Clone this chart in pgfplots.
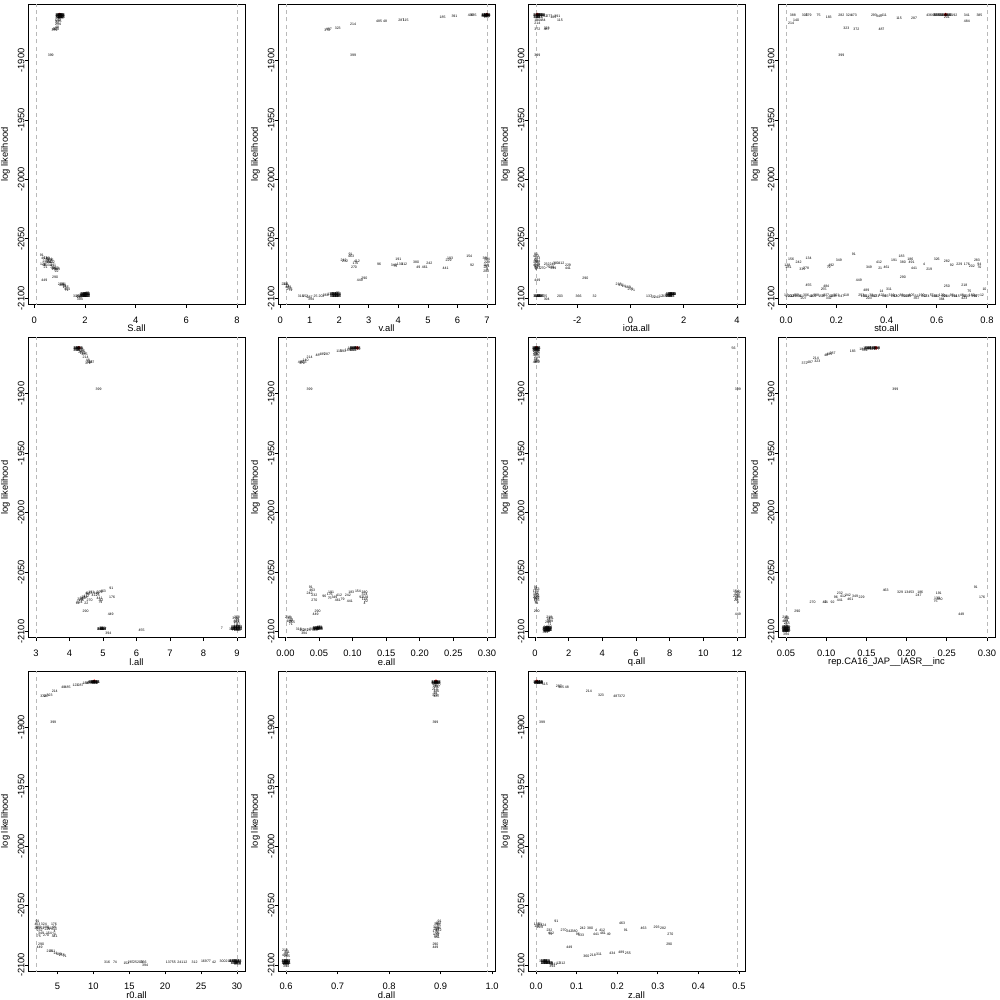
\documentclass[border=0pt]{standalone}
\usepackage{pgfplots}
\pgfplotsset{compat=1.18}
\usepackage{fontspec}
\setmainfont{Liberation Sans}
\newcommand{\tf}{\fontsize{8}{9.6}\selectfont}
\newcommand{\lf}{\fontsize{3}{3.6}\selectfont}
\newcommand{\blf}{\fontsize{3.3}{3.6}\selectfont\bfseries}
\pgfplotsset{
  panel/.style={
    scale only axis, width=65.1mm, height=90mm, anchor=north west,
    ymin=-2105.05, ymax=-1852.9,
    ytick={-2100,-2050,-2000,-1950,-1900},
    yticklabels={-2100,-2050,-2000,-1950,-1900},
    tick align=outside, major tick length=1mm, tick pos=left,
    tick style={black, line width=0.6pt},
    axis line style={black, line width=0.6pt},
    ticklabel style={font=\tf},
    yticklabel style={rotate=90, anchor=south, inner sep=0pt},
    xticklabel style={anchor=north, inner sep=0pt, yshift=-2.6mm},
    ylabel={log likelihood},
    ylabel style={font=\tf, at={([xshift=-6.75mm]axis description cs:0,0.5)}, anchor=center},
    xlabel style={font=\tf, at={(axis description cs:0.5,0)}, anchor=center, yshift=-7.2mm},
  },
  lab/.style={draw=none, mark=none, nodes near coords, point meta=explicit symbolic,
    every node near coord/.append style={font=\lf, inner sep=0pt, anchor=center, black}},
  blob/.style={draw=none, mark=none, nodes near coords, point meta=explicit symbolic,
    every node near coord/.append style={font=\blf, inner sep=0pt, anchor=center, black}},
  bnd/.style={gray!55, line width=0.5pt, dash pattern=on 1.2mm off 1mm, forget plot},
  best/.style={only marks, mark=*, mark size=0.45mm, color=red},
}
\begin{document}
\begin{tikzpicture}
\path[use as bounding box] (0,0) rectangle (300mm,-300mm);
% ---------------- S.all
\begin{axis}[panel, at={(8.4mm,-1.3mm)}, xmin=-0.247, xmax=8.317,
  xtick={0,2,4,6,8}, xticklabels={0,2,4,6,8}, xlabel={S.all}]
\addplot[bnd] coordinates {(0.07,-2200) (0.07,-1800)};
\addplot[bnd] coordinates {(8,-2200) (8,-1800)};
\addplot[best] coordinates {(1.0,-1861.5)};
\addplot[lab] coordinates {
(0.95,-1862)[184] (1.0,-1862)[306] (1.05,-1862)[458] (1.1,-1862.5)[62] (0.97,-1863)[277] (1.02,-1863.5)[115]
(1.07,-1863)[391] (0.98,-1864.5)[287] (1.04,-1865)[185] (0.93,-1866)[140] (0.96,-1867)[485] (0.92,-1868.5)[56]
(0.94,-1870)[214] (0.9,-1872)[48] (0.86,-1873.5)[323] (0.82,-1874)[487] (0.8,-1874.5)[372]
(0.65,-1896)[399]
(0.3,-2064)[91] (0.4,-2066)[463] (0.5,-2066)[183] (0.55,-2067)[61] (0.6,-2067)[324] (0.65,-2068)[196]
(0.45,-2068.5)[229] (0.55,-2069.5)[380] (0.62,-2070)[242] (0.7,-2070)[412] (0.35,-2071)[176] (0.4,-2072)[96]
(0.5,-2072)[133] (0.65,-2072.5)[4] (0.75,-2072)[391] (0.7,-2074)[74] (0.78,-2074.5)[441] (0.45,-2074)[21]
(0.85,-2075)[270] (0.9,-2076)[349] (0.8,-2076)[154] (0.88,-2077)[92]
(0.82,-2082)[290] (0.4,-2085)[449]
(1.05,-2088)[218] (1.15,-2088.5)[311] (1.1,-2089)[489] (1.2,-2090)[14] (1.25,-2091)[255] (1.3,-2092)[404] (1.28,-2093)[71]
(1.65,-2098)[316] (1.75,-2098.5)[152] (1.8,-2099)[287] (1.85,-2098)[25] (1.9,-2097.5)[203] (1.95,-2097)[366]
(2.0,-2097)[137] (2.05,-2096.5)[55] (2.08,-2097)[241] (2.0,-2098)[12] (2.05,-2098)[312] (1.95,-2098.5)[169]
(2.1,-2096)[77] (1.8,-2101)[394]
};
\addplot[blob] coordinates {
(0.97,-1862)[888] (1.03,-1862)[888] (1.08,-1862)[888] (0.97,-1863.5)[888] (1.03,-1863.5)[888] (1.08,-1863.5)[888]
(1.95,-2096.5)[888] (2.02,-2096.5)[888] (2.08,-2096.5)[888] (1.95,-2098)[888] (2.02,-2098)[888] (2.08,-2098)[888]
};
\end{axis}
% ---------------- v.all
\begin{axis}[panel, at={(83.4mm,-1.3mm)}, xmin=-0.072, xmax=7.272,
  xtick={0,1,2,3,4,5,6,7}, xticklabels={0,1,2,3,4,5,6,7}, xlabel={v.all}]
\addplot[bnd] coordinates {(0.2,-2200) (0.2,-1800)};
\addplot[bnd] coordinates {(7,-2200) (7,-1800)};
\addplot[best] coordinates {(7.0,-1861.5)};
\addplot[lab] coordinates {
(6.92,-1862)[184] (6.97,-1862)[306] (7.02,-1862)[458] (6.95,-1863)[62] (7.0,-1863.5)[277] (6.98,-1862.5)[115]
(6.55,-1862.5)[485] (6.45,-1862.5)[435] (5.9,-1863)[391] (5.5,-1864)[185] (4.1,-1866)[287] (4.25,-1866)[115]
(3.35,-1867)[485] (3.55,-1867)[48] (2.47,-1869.7)[214] (1.95,-1873)[323] (1.65,-1874)[487] (1.6,-1874.5)[372]
(2.47,-1896)[399]
(2.38,-2063)[91] (2.4,-2065)[463] (2.15,-2068)[242] (2.2,-2068.5)[232] (2.6,-2069)[412] (2.55,-2070.5)[176]
(2.5,-2074)[270] (3.35,-2071)[96] (3.85,-2072)[349] (3.9,-2073.5)[75] (4.0,-2067)[191] (4.05,-2071.5)[133]
(4.2,-2071)[412] (4.6,-2070)[380] (4.68,-2074)[49] (4.9,-2073.5)[461] (5.05,-2070.5)[242] (5.6,-2075)[441]
(5.7,-2068)[229] (5.75,-2066)[183] (6.4,-2065)[154] (6.5,-2072)[92] (6.95,-2066)[380] (7.0,-2067)[324]
(7.0,-2070)[229] (6.97,-2072)[118] (7.02,-2073)[61] (6.95,-2074)[22] (7.0,-2075.5)[4] (6.98,-2077)[282]
(2.7,-2085)[449] (2.85,-2083)[290]
(0.15,-2088)[218] (0.2,-2088.5)[311] (0.25,-2090)[14] (0.28,-2091)[489] (0.32,-2092)[255] (0.35,-2093)[71]
(0.7,-2098)[316] (0.85,-2098.5)[152] (1.0,-2099)[287] (1.05,-2101)[394] (1.2,-2098.5)[25] (1.4,-2098)[203]
(1.55,-2097.5)[366] (1.7,-2097)[137] (1.8,-2096.5)[55] (1.85,-2097)[241] (1.9,-2096.5)[12] (1.93,-2097.5)[312]
(1.88,-2098)[169] (1.95,-2096)[77]
};
\addplot[blob] coordinates {
(6.93,-1862)[888] (7.0,-1862)[888] (6.93,-1863.2)[888] (7.0,-1863.2)[888]
(1.8,-2096.5)[888] (1.88,-2096.5)[888] (1.95,-2096.5)[888] (1.8,-2098)[888] (1.88,-2098)[888] (1.95,-2098)[888]
};
\end{axis}
% ---------------- iota.all
\begin{axis}[panel, at={(158.4mm,-1.3mm)}, xmin=-3.852, xmax=4.302,
  xtick={-2,0,2,4}, xticklabels={-2,0,2,4}, xlabel={iota.all}]
\addplot[bnd] coordinates {(-3.55,-2200) (-3.55,-1800)};
\addplot[bnd] coordinates {(4,-2200) (4,-1800)};
\addplot[best] coordinates {(-3.5,-1861.5)};
\addplot[lab] coordinates {
(-3.55,-1862)[184] (-3.45,-1862)[306] (-3.35,-1862.5)[458] (-3.2,-1863)[62] (-3.05,-1863)[277] (-2.9,-1863.5)[185]
(-2.75,-1863)[391] (-2.65,-1866)[115] (-3.5,-1864)[287] (-3.5,-1866)[140] (-3.3,-1866.5)[484] (-3.5,-1869)[214]
(-3.5,-1873.5)[372] (-3.15,-1873)[323] (-3.15,-1874)[487]
(-3.5,-1896)[399]
(-3.55,-2063)[91] (-3.55,-2065)[463] (-3.5,-2066.5)[183] (-3.55,-2068)[61] (-3.5,-2069)[324] (-3.55,-2070)[196]
(-3.5,-2071)[229] (-3.55,-2072)[412] (-3.5,-2073)[176] (-3.55,-2074)[96] (-3.5,-2075)[133] (-3.55,-2076)[4]
(-3.3,-2075)[270] (-3.15,-2071)[232] (-2.95,-2073.5)[191] (-2.93,-2071)[242] (-2.8,-2070.5)[380] (-2.6,-2070.5)[412]
(-2.35,-2072)[229] (-2.35,-2075)[441] (-2.9,-2074.5)[349] (-3.1,-2074)[75]
(-3.5,-2085)[449] (-1.7,-2083)[290]
(-0.45,-2088.5)[218] (-0.35,-2089)[311] (-0.25,-2090)[14] (-0.1,-2091)[489] (0.0,-2092)[255] (0.1,-2093)[71]
(-3.55,-2098)[316] (-3.45,-2098)[152] (-3.35,-2098)[287] (-3.2,-2098.5)[25] (-3.15,-2101)[394] (-2.65,-2098)[203]
(-1.95,-2098)[366] (-1.35,-2098)[32]
(0.7,-2098.5)[137] (0.85,-2099)[55] (1.0,-2099)[241] (1.15,-2098.5)[12] (1.3,-2098)[312] (1.4,-2097.5)[169]
(1.48,-2097)[77] (1.55,-2096.5)[203] (1.6,-2096.5)[211] (1.52,-2097.5)[42] (1.58,-2097)[300]
};
\addplot[blob] coordinates {
(-3.52,-1862)[888] (-3.42,-1862)[888] (-3.32,-1862)[888] (-3.52,-1863.3)[888] (-3.42,-1863.3)[888]
(-3.5,-2098)[888] (-3.4,-2098)[888]
(1.45,-2096.5)[888] (1.53,-2096.5)[888] (1.6,-2096.5)[888] (1.45,-2097.8)[888] (1.53,-2097.8)[888]
};
\end{axis}
% ---------------- sto.all
\begin{axis}[panel, at={(233.4mm,-1.3mm)}, xmin=-0.032, xmax=0.832,
  xtick={0,0.2,0.4,0.6,0.8}, xticklabels={0.0,0.2,0.4,0.6,0.8}, xlabel={sto.all}]
\addplot[bnd] coordinates {(0,-2200) (0,-1800)};
\addplot[bnd] coordinates {(0.8,-2200) (0.8,-1800)};
\addplot[best] coordinates {(0.635,-1861.5)};
\addplot[lab] coordinates {
(0.027,-1862)[388] (0.075,-1862)[305] (0.09,-1862)[279] (0.13,-1862)[75] (0.17,-1863.5)[183] (0.22,-1862)[282]
(0.25,-1862)[324] (0.27,-1862)[473] (0.35,-1862)[293] (0.37,-1863)[345] (0.39,-1862)[411] (0.45,-1865)[115]
(0.51,-1865)[287] (0.57,-1862)[436] (0.59,-1862)[60] (0.61,-1862)[251] (0.63,-1862)[113] (0.65,-1862.5)[482]
(0.67,-1862)[192] (0.72,-1862.5)[341] (0.77,-1862)[385] (0.72,-1867)[484] (0.04,-1866)[140] (0.02,-1868.5)[214]
(0.24,-1873)[323] (0.28,-1874)[372] (0.38,-1874)[487] (0.64,-1864)[201]
(0.22,-1896)[399]
(0.02,-2067)[156] (0.05,-2070)[242] (0.09,-2066)[134] (0.08,-2075)[278] (0.005,-2072)[138] (0.01,-2074)[281]
(0.17,-2074)[79] (0.18,-2072)[492] (0.21,-2068)[349] (0.27,-2063)[91] (0.33,-2074)[349] (0.37,-2070)[412]
(0.375,-2075)[21] (0.4,-2074)[461] (0.43,-2068)[191] (0.46,-2065)[183] (0.465,-2070)[380] (0.495,-2067)[186]
(0.5,-2070)[491] (0.51,-2075)[441] (0.55,-2071)[4] (0.57,-2076)[219] (0.6,-2067)[326] (0.64,-2069)[282]
(0.66,-2072)[92] (0.69,-2071)[229] (0.72,-2071)[176] (0.74,-2073)[202] (0.76,-2068)[283] (0.77,-2071)[94]
(0.77,-2074)[70] (0.065,-2075.5)[335]
(0.29,-2085)[449] (0.465,-2082.5)[290]
(0.09,-2089)[455] (0.16,-2090)[484] (0.15,-2092)[255] (0.32,-2093)[489] (0.38,-2094)[14] (0.41,-2092.5)[311]
(0.64,-2090)[250] (0.71,-2089)[218] (0.73,-2094)[75] (0.79,-2092)[10]
(0.00,-2097.5)[17] (0.02,-2098.5)[212] (0.04,-2097.5)[455] (0.06,-2098.5)[81] (0.08,-2097.5)[306] (0.10,-2098.5)[42]
(0.12,-2097.5)[388] (0.14,-2098.5)[159] (0.16,-2097.5)[227] (0.18,-2098.5)[66] (0.20,-2097.5)[301] (0.22,-2098.5)[247]
(0.24,-2097.5)[118] (0.30,-2097.5)[253] (0.32,-2098.5)[201] (0.34,-2097.5)[38] (0.36,-2098.5)[171] (0.38,-2097.5)[422]
(0.40,-2098.5)[65] (0.42,-2097.5)[319] (0.44,-2098.5)[140] (0.46,-2097.5)[88] (0.48,-2098.5)[267] (0.50,-2097.5)[405]
(0.52,-2098.5)[33] (0.54,-2097.5)[190] (0.56,-2098.5)[274] (0.58,-2097.5)[57] (0.60,-2098.5)[362] (0.62,-2097.5)[129]
(0.64,-2098.5)[244] (0.66,-2097.5)[98] (0.68,-2098.5)[315] (0.70,-2097.5)[46] (0.72,-2098.5)[233] (0.74,-2097.5)[160]
(0.76,-2098.5)[377] (0.78,-2097.5)[12] (0.07,-2100)[207] (0.17,-2100)[332] (0.33,-2100)[203] (0.62,-2101)[384]
(0.52,-2100)[367] (0.71,-2100)[423]
(0.01,-2098)[250] (0.03,-2098)[113] (0.05,-2098)[301] (0.11,-2098)[402] (0.15,-2098)[77] (0.19,-2098)[238]
(0.31,-2098)[133] (0.35,-2098)[460] (0.39,-2098)[19] (0.43,-2098)[287] (0.47,-2098)[351] (0.49,-2098)[94]
(0.55,-2098)[212] (0.59,-2098)[180] (0.63,-2098)[309] (0.67,-2098)[144] (0.71,-2098)[26] (0.75,-2098)[399]
};
\addplot[blob] coordinates {
(0.6,-1862)[888] (0.625,-1862)[888] (0.645,-1862)[888]
};
\end{axis}
% ---------------- l.all
\begin{axis}[panel, at={(8.4mm,-101.3mm)}, xmin=2.76, xmax=9.24,
  xtick={3,4,5,6,7,8,9}, xticklabels={3,4,5,6,7,8,9}, xlabel={l.all}]
\addplot[bnd] coordinates {(3,-2200) (3,-1800)};
\addplot[bnd] coordinates {(9,-2200) (9,-1800)};
\addplot[best] coordinates {(4.28,-1861.5)};
\addplot[lab] coordinates {
(4.2,-1862)[184] (4.27,-1862)[306] (4.33,-1862.5)[458] (4.22,-1863)[62] (4.3,-1863.5)[277] (4.38,-1864)[185]
(4.35,-1865)[287] (4.4,-1866)[140] (4.45,-1867)[485] (4.48,-1869.7)[214] (4.55,-1872)[48] (4.6,-1873.5)[323]
(4.65,-1874)[487] (4.55,-1874.5)[372]
(4.87,-1896)[399]
(4.25,-2076)[61] (4.3,-2075)[324] (4.35,-2074)[196] (4.32,-2073)[229] (4.4,-2072)[380] (4.45,-2071)[242]
(4.5,-2070)[412] (4.55,-2069)[96] (4.6,-2068)[133] (4.5,-2067.5)[4] (4.65,-2067)[191] (4.75,-2069)[412]
(4.8,-2068)[349] (4.85,-2069.5)[75] (4.9,-2067)[229] (5.0,-2066)[463] (5.25,-2063.5)[91] (5.27,-2071)[176]
(4.6,-2074)[270] (4.9,-2072)[441] (4.95,-2074)[92] (4.92,-2075)[79] (4.5,-2076)[22]
(4.48,-2083)[290] (5.23,-2085)[449]
(4.92,-2098)[316] (4.97,-2098)[152] (5.02,-2098)[287] (4.95,-2097.5)[25] (5.0,-2097.5)[203] (5.16,-2101)[394]
(6.15,-2099)[455]
(8.55,-2097)[7] (8.85,-2098)[366] (8.92,-2098)[137] (8.95,-2097)[55] (9.0,-2098.5)[241] (9.05,-2097.5)[12]
(8.98,-2096)[312] (9.03,-2099)[169] (8.9,-2099)[77] (9.0,-2088)[218] (8.95,-2089)[311] (9.02,-2090)[14]
(8.98,-2091)[489] (9.0,-2092.5)[255] (8.96,-2093.5)[71] (9.05,-2095)[32]
};
\addplot[blob] coordinates {
(4.22,-1862)[888] (4.3,-1862)[888] (4.22,-1863.3)[888]
(4.93,-2097.5)[888] (5.0,-2097.5)[888]
(8.92,-2096.5)[888] (9.0,-2096.5)[888] (9.06,-2096.5)[888] (8.92,-2098)[888] (9.0,-2098)[888] (9.06,-2098)[888]
};
\end{axis}
% ---------------- e.all
\begin{axis}[panel, at={(83.4mm,-101.3mm)}, xmin=-0.011, xmax=0.312,
  xtick={0,0.05,0.1,0.15,0.2,0.25,0.3}, xticklabels={0.00,0.05,0.10,0.15,0.20,0.25,0.30}, xlabel={e.all}]
\addplot[bnd] coordinates {(0.001,-2200) (0.001,-1800)};
\addplot[bnd] coordinates {(0.3,-2200) (0.3,-1800)};
\addplot[best] coordinates {(0.107,-1861.5)};
\addplot[lab] coordinates {
(0.097,-1862)[184] (0.101,-1862)[306] (0.105,-1862)[458] (0.109,-1862.5)[62] (0.1,-1863)[277] (0.093,-1863.5)[185]
(0.086,-1864)[391] (0.08,-1864.5)[115] (0.062,-1866.5)[287] (0.055,-1867)[485] (0.048,-1867.5)[48] (0.036,-1869.7)[214]
(0.03,-1872)[140] (0.027,-1873.5)[323] (0.023,-1874)[487] (0.025,-1874.5)[372]
(0.036,-1896)[399]
(0.038,-2063)[91] (0.04,-2065)[463] (0.036,-2068)[242] (0.043,-2069.5)[232] (0.043,-2074)[270] (0.058,-2070.5)[96]
(0.066,-2069)[176] (0.068,-2067)[191] (0.066,-2072)[75] (0.08,-2069.5)[412] (0.078,-2074)[461] (0.093,-2069)[242]
(0.096,-2074.5)[441] (0.098,-2066.5)[183] (0.108,-2066)[154] (0.113,-2071)[92] (0.118,-2067)[380] (0.118,-2069)[324]
(0.119,-2071)[229] (0.118,-2073)[118] (0.12,-2074.5)[22] (0.118,-2076)[4] (0.073,-2071)[349] (0.085,-2073)[79]
(0.048,-2083)[290] (0.045,-2085)[449]
(0.004,-2088)[218] (0.007,-2089)[311] (0.009,-2090.5)[14] (0.006,-2091.5)[489] (0.01,-2092.5)[255] (0.008,-2093.5)[71]
(0.02,-2098)[316] (0.025,-2099)[152] (0.03,-2099)[287] (0.028,-2101)[394] (0.035,-2098.5)[25] (0.04,-2098)[203]
(0.045,-2097.5)[366] (0.048,-2097)[137] (0.05,-2096.5)[55] (0.047,-2098)[241] (0.052,-2096.5)[12] (0.05,-2097.5)[312]
(0.044,-2098.5)[169]
};
\addplot[blob] coordinates {
(0.101,-1862)[888] (0.107,-1862)[888] (0.101,-1863.2)[888]
(0.046,-2096.8)[888] (0.051,-2096.8)[888] (0.046,-2098)[888] (0.051,-2098)[888]
};
\end{axis}
% ---------------- q.all
\begin{axis}[panel, at={(158.4mm,-101.3mm)}, xmin=-0.418, xmax=12.478,
  xtick={0,2,4,6,8,10,12}, xticklabels={0,2,4,6,8,10,12}, xlabel={q.all}]
\addplot[bnd] coordinates {(0.06,-2200) (0.06,-1800)};
\addplot[bnd] coordinates {(12,-2200) (12,-1800)};
\addplot[best] coordinates {(0.08,-1861.5)};
\addplot[lab] coordinates {
(0.0,-1862)[184] (0.15,-1862)[306] (0.05,-1862.5)[458] (0.1,-1863)[62] (0.05,-1864)[277] (0.12,-1865)[185]
(0.05,-1866)[287] (0.1,-1867)[140] (0.05,-1868)[485] (0.12,-1869.5)[214] (0.05,-1871)[48] (0.1,-1872.5)[323]
(0.05,-1874)[487] (0.12,-1874)[372]
(11.8,-1862)[56] (12.05,-1896)[399]
(0.05,-2063)[91] (0.1,-2064.5)[463] (0.05,-2066)[183] (0.1,-2067.5)[61] (0.05,-2069)[324] (0.1,-2070)[196]
(0.05,-2071)[229] (0.1,-2072)[412] (0.05,-2073)[96] (0.1,-2074)[133] (0.05,-2075)[4] (0.08,-2076.5)[74]
(0.1,-2083)[290]
(11.95,-2066)[154] (12.05,-2067)[380] (12.0,-2068.5)[324] (11.95,-2070)[229] (12.05,-2071)[118] (12.0,-2072.5)[61]
(11.95,-2074)[22] (12.05,-2075.5)[4] (12.05,-2085)[449]
(0.85,-2088)[218] (0.95,-2088.5)[311] (0.8,-2090)[14] (0.9,-2091)[489] (0.78,-2092)[255] (0.85,-2093.5)[71]
(0.6,-2098)[316] (0.65,-2097)[152] (0.7,-2098.5)[287] (0.75,-2097.5)[25] (0.8,-2098)[203] (0.85,-2096.5)[366]
(0.72,-2099.5)[137] (0.82,-2099)[55] (0.68,-2096.5)[241] (0.62,-2100.5)[394]
};
\addplot[blob] coordinates {
(0.05,-1862)[888] (0.12,-1862)[888] (0.05,-1863.3)[888] (0.12,-1863.3)[888]
(0.65,-2097)[888] (0.75,-2097)[888] (0.82,-2097)[888] (0.65,-2098.5)[888] (0.75,-2098.5)[888] (0.82,-2098.5)[888]
(0.7,-2099.8)[888]
};
\end{axis}
% ---------------- rep
\begin{axis}[panel, at={(233.4mm,-101.3mm)}, xmin=0.04, xmax=0.31,
  xtick={0.05,0.1,0.15,0.2,0.25,0.3}, xticklabels={0.05,0.10,0.15,0.20,0.25,0.30},
  xlabel={rep.CA16\_JAP\_\_IASR\_\_inc}]
\addplot[bnd] coordinates {(0.05,-2200) (0.05,-1800)};
\addplot[bnd] coordinates {(0.3,-2200) (0.3,-1800)};
\addplot[best] coordinates {(0.162,-1861.5)};
\addplot[lab] coordinates {
(0.145,-1862.5)[184] (0.15,-1862)[306] (0.155,-1862)[458] (0.16,-1862)[62] (0.163,-1862.5)[277] (0.152,-1863)[185]
(0.158,-1863)[115] (0.148,-1863.5)[391] (0.133,-1864.7)[183] (0.108,-1866)[287] (0.104,-1867)[485] (0.1,-1867.5)[48]
(0.087,-1870)[214] (0.089,-1873)[323] (0.08,-1874)[487] (0.073,-1874.5)[372]
(0.186,-1896)[399]
(0.174,-2065)[463] (0.192,-2067)[329] (0.201,-2066.5)[134] (0.207,-2067)[53] (0.217,-2067)[186] (0.215,-2069)[247]
(0.24,-2068)[191] (0.238,-2072)[130] (0.241,-2073)[380] (0.236,-2074.5)[75] (0.286,-2063)[91] (0.294,-2071)[176]
(0.127,-2069)[242] (0.117,-2068)[232] (0.121,-2070.5)[412] (0.136,-2070)[349] (0.144,-2071)[229] (0.13,-2072.5)[461]
(0.112,-2071)[96] (0.117,-2074)[441] (0.108,-2075)[92] (0.098,-2075)[49] (0.083,-2075)[270] (0.1,-2075.5)[21]
(0.064,-2082.5)[290] (0.268,-2085)[449]
(0.049,-2088)[218] (0.051,-2089)[311] (0.05,-2090.5)[14] (0.049,-2091.5)[489] (0.051,-2093)[255] (0.05,-2095)[71]
(0.048,-2097)[316] (0.05,-2097)[152] (0.052,-2097)[287] (0.048,-2098.5)[25] (0.05,-2098.5)[203] (0.052,-2098.5)[366]
(0.049,-2100)[137] (0.051,-2100)[55] (0.05,-2102)[394]
};
\addplot[blob] coordinates {
(0.152,-1862)[888] (0.158,-1862)[888] (0.163,-1862)[888]
(0.049,-2096.5)[888] (0.051,-2096.5)[888] (0.049,-2098)[888] (0.051,-2098)[888] (0.049,-2099.5)[888] (0.051,-2099.5)[888]
};
\end{axis}
% ---------------- r0.all
\begin{axis}[panel, at={(8.4mm,-201.3mm)}, xmin=0.88, xmax=31.12,
  xtick={5,10,15,20,25,30}, xticklabels={5,10,15,20,25,30}, xlabel={r0.all}]
\addplot[bnd] coordinates {(2,-2200) (2,-1800)};
\addplot[bnd] coordinates {(30,-2200) (30,-1800)};
\addplot[best] coordinates {(10.1,-1861.5)};
\addplot[lab] coordinates {
(8.9,-1863.5)[184] (9.3,-1863)[306] (9.6,-1862.5)[458] (9.9,-1862)[62] (10.1,-1862)[277] (10.3,-1862)[185]
(10.45,-1862.5)[115] (10.2,-1863)[391] (8.2,-1864.5)[287] (7.5,-1865)[123] (6.4,-1866.5)[485] (5.8,-1867)[48]
(4.6,-1869.7)[214] (3.9,-1873)[323] (3.4,-1874)[487] (3.0,-1874.5)[372]
(4.4,-1896)[399]
(2.2,-2063.5)[91] (2.2,-2066)[463] (2.3,-2068)[183] (2.2,-2069.5)[242] (2.5,-2071)[232] (2.9,-2069)[61]
(3.1,-2066)[324] (3.4,-2068)[196] (3.6,-2070)[229] (4.0,-2069)[412] (4.5,-2066)[176] (4.6,-2068)[96]
(4.5,-2070)[133] (4.6,-2072)[4] (4.5,-2074)[74] (4.6,-2076)[441] (3.4,-2075)[270] (2.7,-2073)[349]
(2.4,-2075.5)[75] (3.8,-2073)[154]
(2.7,-2082.5)[290] (2.5,-2085)[449]
(3.9,-2088.5)[218] (4.3,-2088.5)[311] (4.7,-2090)[14] (5.2,-2091)[489] (5.6,-2092)[255] (6.0,-2093)[71]
(11.9,-2098)[316] (13.0,-2098)[74] (14.6,-2098.5)[152] (15.2,-2098)[287] (15.8,-2098)[25] (16.5,-2098)[203]
(17.0,-2098)[366] (17.2,-2100.5)[394] (20.5,-2098)[137] (21.2,-2098)[55] (22.1,-2098)[241] (22.8,-2098)[12]
(24.1,-2097.5)[312] (25.4,-2097.3)[169] (26.1,-2097.3)[77] (26.8,-2097.3)[42] (28.0,-2097)[300] (28.8,-2097)[211]
(29.2,-2096.5)[49] (29.6,-2097)[60] (30.0,-2097.5)[99] (30.2,-2098)[100] (29.8,-2098.5)[51] (30.3,-2099)[18]
(29.9,-2099.5)[27]
};
\addplot[blob] coordinates {
(9.8,-1862)[888] (10.15,-1862)[888] (10.4,-1862)[888] (10.15,-1863.2)[888]
(29.4,-2096.8)[888] (29.9,-2096.8)[888] (30.2,-2096.8)[888] (29.6,-2098.2)[888] (30.1,-2098.2)[888]
};
\end{axis}
% ---------------- d.all
\begin{axis}[panel, at={(83.4mm,-201.3mm)}, xmin=0.5844, xmax=1.0056,
  xtick={0.6,0.7,0.8,0.9,1.0}, xticklabels={0.6,0.7,0.8,0.9,1.0}, xlabel={d.all}]
\addplot[bnd] coordinates {(0.6,-2200) (0.6,-1800)};
\addplot[bnd] coordinates {(0.99,-2200) (0.99,-1800)};
\addplot[best] coordinates {(0.891,-1861.5)};
\addplot[lab] coordinates {
(0.888,-1862)[184] (0.895,-1862)[306] (0.891,-1863)[458] (0.888,-1864)[62] (0.895,-1864.5)[277] (0.89,-1866)[185]
(0.893,-1867)[287] (0.889,-1868.5)[214] (0.892,-1870)[485] (0.89,-1872)[48] (0.889,-1873.5)[323] (0.892,-1874.5)[487]
(0.89,-1896)[399]
(0.898,-2063)[91] (0.895,-2065)[463] (0.893,-2066)[183] (0.897,-2067)[61] (0.891,-2068)[324] (0.895,-2069)[196]
(0.892,-2070)[229] (0.896,-2071)[412] (0.89,-2072)[176] (0.894,-2073)[96] (0.891,-2074)[133] (0.895,-2075)[4]
(0.89,-2076)[74] (0.893,-2077)[441]
(0.89,-2082.5)[290] (0.89,-2085)[449]
(0.598,-2088)[218] (0.602,-2089)[311] (0.6,-2090.5)[14] (0.598,-2091.5)[489] (0.602,-2093)[255]
(0.597,-2097)[316] (0.6,-2097)[152] (0.603,-2097)[287] (0.597,-2098.5)[25] (0.6,-2098.5)[203] (0.603,-2098.5)[366]
(0.6,-2101)[394]
};
\addplot[blob] coordinates {
(0.889,-1862)[888] (0.893,-1862)[888] (0.889,-1863.3)[888] (0.893,-1863.3)[888]
(0.598,-2096.8)[888] (0.602,-2096.8)[888] (0.598,-2098.3)[888] (0.602,-2098.3)[888] (0.6,-2099.5)[888]
};
\end{axis}
% ---------------- z.all
\begin{axis}[panel, at={(158.4mm,-201.3mm)}, xmin=-0.0198, xmax=0.5148,
  xtick={0,0.1,0.2,0.3,0.4,0.5}, xticklabels={0.0,0.1,0.2,0.3,0.4,0.5}, xlabel={z.all}]
\addplot[bnd] coordinates {(0,-2200) (0,-1800)};
\addplot[bnd] coordinates {(0.495,-2200) (0.495,-1800)};
\addplot[best] coordinates {(0.002,-1861.5)};
\addplot[lab] coordinates {
(0.0,-1862)[184] (0.004,-1862)[306] (0.008,-1862.5)[458] (0.012,-1862)[62] (0.003,-1863)[277] (0.01,-1863)[185]
(0.022,-1864)[115] (0.056,-1866)[287] (0.062,-1866.5)[485] (0.076,-1867)[48] (0.13,-1869.7)[214] (0.16,-1873)[323]
(0.198,-1874)[487] (0.212,-1874)[372]
(0.015,-1896)[399]
(0.002,-2066)[183] (0.01,-2066)[61] (0.018,-2066.5)[324] (0.003,-2067.5)[196] (0.01,-2068)[229] (0.05,-2063)[91]
(0.033,-2071)[232] (0.037,-2073)[412] (0.035,-2074.5)[75] (0.068,-2071)[270] (0.082,-2072)[242] (0.095,-2072)[380]
(0.103,-2074)[96] (0.111,-2075)[133] (0.115,-2069.5)[242] (0.133,-2069.5)[380] (0.148,-2070.5)[4] (0.163,-2070.5)[412]
(0.148,-2074.5)[441] (0.165,-2073.5)[461] (0.179,-2074.5)[49] (0.212,-2065)[463] (0.221,-2071)[91] (0.265,-2069)[463]
(0.297,-2068)[293] (0.313,-2069)[282] (0.331,-2074)[270]
(0.328,-2082.5)[290] (0.082,-2085)[449]
(0.124,-2093)[360] (0.14,-2092)[218] (0.155,-2091)[311] (0.188,-2090)[434] (0.21,-2089)[489] (0.226,-2090)[255]
(0.015,-2097)[316] (0.02,-2097)[152] (0.025,-2097)[287] (0.017,-2098.5)[25] (0.022,-2098.5)[203] (0.028,-2098)[366]
(0.032,-2098.5)[137] (0.038,-2099)[55] (0.045,-2099)[241] (0.055,-2098.5)[12] (0.065,-2098.5)[312] (0.04,-2101)[394]
};
\addplot[blob] coordinates {
(0.003,-1862)[888] (0.009,-1862)[888] (0.003,-1863.2)[888] (0.009,-1863.2)[888]
(0.02,-2096.8)[888] (0.027,-2096.8)[888] (0.02,-2098.2)[888] (0.027,-2098.2)[888] (0.034,-2098.2)[888]
};
\end{axis}
\end{tikzpicture}
\end{document}
